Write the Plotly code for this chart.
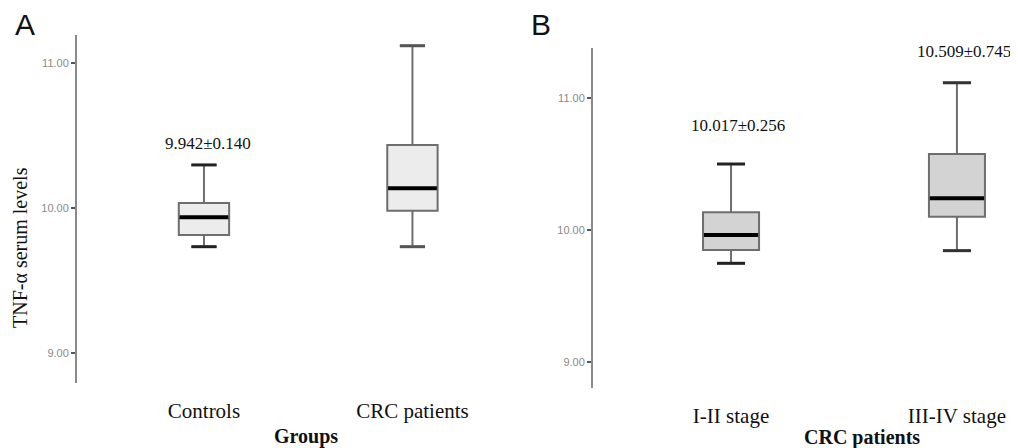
import plotly.graph_objects as go

# ---- data ----
groups_a = ["Controls", "CRC patients"]
q1_a = [9.814, 9.981]
med_a = [9.936, 10.136]
q3_a = [10.034, 10.434]
low_a = [9.733, 9.733]
up_a = [10.297, 11.119]
label_a = ["9.942±0.140", "10.345±0.664"]
label_y_a = [10.448, 11.248]

groups_b = ["I-II stage", "III-IV stage"]
q1_b = [9.848, 10.101]
med_b = [9.962, 10.241]
q3_b = [10.134, 10.577]
low_b = [9.747, 9.843]
up_b = [10.501, 11.118]
label_b = ["10.017±0.256", "10.509±0.745"]
label_y_b = [10.797, 11.352]

yticks = [9.0, 10.0, 11.0]
yticktext = ["9.00", "10.00", "11.00"]

# page body adds an 8px margin; work in reference pixels minus that offset
OFF = 8
W, H = 1018 - OFF, 448 - OFF
serif = "Liberation Serif, Times New Roman, serif"
narrow = "Liberation Sans Narrow, Arial Narrow, sans-serif"


def px(x):
    return (x - OFF) / W


def py(y):
    return 1 - (y - OFF) / H


fig = go.Figure()


def add_panel(fig, xa, ya, q1, med, q3, low, up, fill, width, capcol):
    pos = list(range(len(q1)))
    fig.add_trace(go.Box(
        x=pos, q1=q1, median=med, q3=q3, lowerfence=low, upperfence=up,
        width=width, whiskerwidth=0.5, fillcolor=fill,
        line=dict(color="#6e6e6e", width=2), boxpoints=False,
        xaxis=xa, yaxis=ya, showlegend=False, hoverinfo="skip"))
    for i, p in enumerate(pos):
        hw = width / 2
        cw = width / 4
        fig.add_trace(go.Scatter(x=[p - hw + 0.004, p + hw - 0.004], y=[med[i], med[i]], mode="lines",
                                 line=dict(color="black", width=4), xaxis=xa, yaxis=ya,
                                 showlegend=False, hoverinfo="skip"))
        for v in (low[i], up[i]):
            fig.add_trace(go.Scatter(x=[p - cw, p + cw], y=[v, v], mode="lines",
                                     line=dict(color=capcol[i], width=3), xaxis=xa, yaxis=ya,
                                     showlegend=False, hoverinfo="skip"))


add_panel(fig, "x", "y", q1_a, med_a, q3_a, low_a, up_a, "#ececec", 0.2415, ["#222222", "#555555"])
add_panel(fig, "x2", "y2", q1_b, med_b, q3_b, low_b, up_b, "#d3d3d3", 0.248, ["#222222", "#333333"])

common_x = dict(showline=False, showgrid=False, zeroline=False, ticks="outside",
                ticklen=9, tickcolor="rgba(0,0,0,0)",
                tickfont=dict(family=serif, size=21, color="#111111"))
common_y = dict(showline=True, linecolor="#8a8a8a", linewidth=2, showgrid=False, zeroline=False,
                ticks="outside", ticklen=4, tickwidth=2, tickcolor="#555555",
                tickvals=yticks, ticktext=yticktext,
                tickfont=dict(family=narrow, size=11, color="#8a8a8a"))

fig.update_layout(
    width=W, height=H, margin=dict(l=0, r=0, t=0, b=0),
    plot_bgcolor="white", paper_bgcolor="white",
    xaxis=dict(domain=[px(77), px(490)], range=[-0.609, 1.372], anchor="y",
               tickvals=[0, 1], ticktext=groups_a, **common_x),
    yaxis=dict(domain=[py(383), py(35)], range=[8.793, 11.193], anchor="x", **common_y),
    xaxis2=dict(domain=[px(593), px(1008)], range=[-0.611, 1.226], anchor="y2",
                tickvals=[0, 1], ticktext=groups_b, **common_x),
    yaxis2=dict(domain=[py(388), py(48)], range=[8.80, 11.382], anchor="x2", **common_y),
)

ann = []
for i, t in enumerate(label_a):
    ann.append(dict(x=i + 0.02, y=label_y_a[i], xref="x", yref="y", text=t, showarrow=False,
                    xanchor="center", yanchor="middle",
                    font=dict(family=serif, size=17, color="#111111")))
for i, t in enumerate(label_b):
    ann.append(dict(x=i + 0.03, y=label_y_b[i], xref="x2", yref="y2", text=t, showarrow=False,
                    xanchor="center", yanchor="middle",
                    font=dict(family=serif, size=17, color="#111111")))
ann += [
    dict(x=0.49, y=py(436), xref="x", yref="paper", text="<b>Groups</b>", showarrow=False,
         xanchor="center", yanchor="middle", font=dict(family=serif, size=20, color="#111111")),
    dict(x=0.58, y=py(437), xref="x2", yref="paper", text="<b>CRC patients</b>", showarrow=False,
         xanchor="center", yanchor="middle", font=dict(family=serif, size=20, color="#111111")),
    dict(x=px(20), y=py(248), xref="paper", yref="paper", text="TNF-α serum levels", textangle=-90,
         showarrow=False, xanchor="center", yanchor="middle",
         font=dict(family=serif, size=20, color="#111111")),
    dict(x=px(25), y=py(25), xref="paper", yref="paper", text="A", showarrow=False,
         xanchor="center", yanchor="middle",
         font=dict(family="Liberation Sans, Arial, sans-serif", size=30, color="#111111")),
    dict(x=px(541), y=py(25), xref="paper", yref="paper", text="B", showarrow=False,
         xanchor="center", yanchor="middle",
         font=dict(family="Liberation Sans, Arial, sans-serif", size=30, color="#111111")),
]
fig.update_layout(annotations=ann)

fig.write_html("out.html")
